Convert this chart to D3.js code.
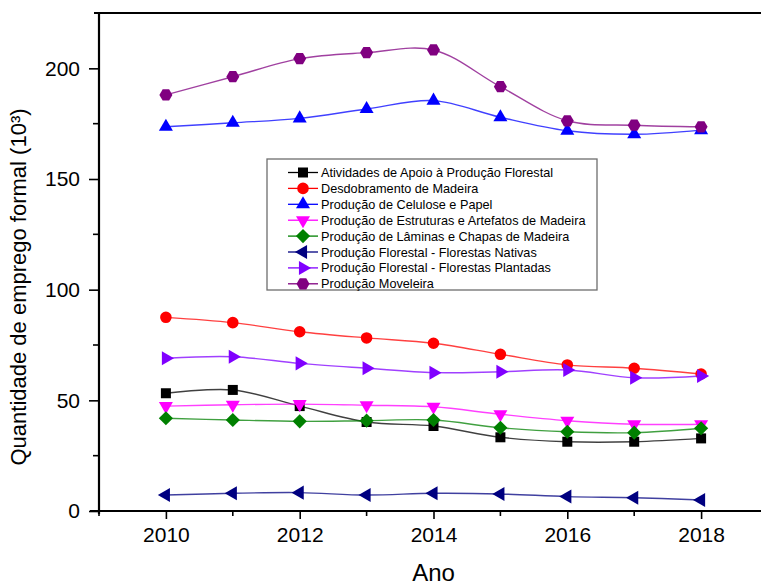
<!DOCTYPE html>
<html>
<head>
<meta charset="utf-8">
<script src="https://cdn.jsdelivr.net/npm/d3@7"></script>
<style>
  html, body { margin: 0; padding: 0; background: #fff; }
  svg { display: block; font-family: Arial, "Liberation Sans", sans-serif; }
</style>
</head>
<body>
<svg id="chart" width="761" height="587"></svg>
<script>
// Formal employment in the forestry sector, thousands of jobs per year
const years = [2010, 2011, 2012, 2013, 2014, 2015, 2016, 2017, 2018];

const apoio         = [53.2, 54.7, 47.4, 40.2, 38.4, 33.3, 31.3, 31.3, 32.8];
const desdobramento = [87.5, 85.1, 81.0, 78.2, 75.8, 70.8, 66.0, 64.5, 61.9];
const celulose      = [173.6, 175.4, 177.4, 181.6, 185.4, 177.9, 171.8, 170.2, 172.1];
const estruturas    = [47.4, 48.0, 48.3, 47.8, 47.1, 43.7, 40.8, 39.2, 39.2];
const laminas       = [41.9, 41.1, 40.5, 40.8, 41.1, 37.6, 35.8, 35.4, 37.4];
const nativas       = [7.2, 8.0, 8.3, 7.2, 8.0, 7.7, 6.5, 6.0, 5.0];
const plantadas     = [69.0, 69.7, 66.7, 64.5, 62.5, 62.9, 63.7, 60.2, 61.0];
const moveleira     = [188.0, 196.2, 204.4, 207.1, 208.3, 191.7, 176.3, 174.3, 173.6];

const seriesNames = [
  "Atividades de Apoio à Produção Florestal",
  "Desdobramento de Madeira",
  "Produção de Celulose e Papel",
  "Produção de Estruturas e Artefatos de Madeira",
  "Produção de Lâminas e Chapas de Madeira",
  "Produção Florestal - Florestas Nativas",
  "Produção Florestal - Florestas Plantadas",
  "Produção Moveleira"
];
const seriesValues = [apoio, desdobramento, celulose, estruturas, laminas, nativas, plantadas, moveleira];
const seriesColors = ["#000000", "#ff0000", "#0000ff", "#ff00ff", "#008000", "#000080", "#8000ff", "#800080"];
const seriesMarkers = ["square", "circle", "up", "down", "diamond", "left", "right", "hexagon"];

const yTicks = [0, 50, 100, 150, 200];
const xTicks = [2010, 2012, 2014, 2016, 2018];

const xTitle = "Ano";
const yTitle = "Quantidade de emprego formal (10³)";

// ---- layout ----
const svg = d3.select("#chart");
const plot = { left: 99, right: 768, top: 13, bottom: 511 };

const x = d3.scaleLinear().domain([2009, 2019]).range([plot.left, plot.right]);
const y = d3.scaleLinear().domain([0, 225]).range([plot.bottom, plot.top]);

// ---- marker shapes ----
function markerPath(kind) {
  switch (kind) {
    case "square":  return d3.symbol(d3.symbolSquare, 100)();
    case "circle":  return d3.symbol(d3.symbolCircle, 105)();
    case "up":
    case "down":
    case "left":
    case "right":   return d3.symbol(d3.symbolTriangle, 85)();
    case "diamond": return d3.symbol(d3.symbolSquare, 100)();
    case "hexagon": {
      const r = 6.5;
      const pts = d3.range(6).map(i => [r * Math.cos(i * Math.PI / 3), r * Math.sin(i * Math.PI / 3)]);
      return d3.line()(pts) + "Z";
    }
  }
}
const markerRotation = { square: 0, circle: 0, up: 0, down: 180, left: -90, right: 90, diamond: 45, hexagon: 0 };

// ---- frame: top border ----
svg.append("line")
  .attr("x1", plot.left - 5).attr("x2", plot.right)
  .attr("y1", plot.top).attr("y2", plot.top)
  .attr("stroke", "#000").attr("stroke-width", 2);

// ---- axes ----
const yAxis = d3.axisLeft(y)
  .tickValues(yTicks)
  .tickSize(10)
  .tickPadding(9)
  .tickFormat(d3.format("d"));
const gy = svg.append("g")
  .attr("transform", `translate(${plot.left},0)`)
  .call(yAxis);

const xAxis = d3.axisBottom(x)
  .tickValues(xTicks)
  .tickSize(8)
  .tickPadding(8)
  .tickFormat(d3.format("d"));
const gx = svg.append("g")
  .attr("transform", `translate(0,${plot.bottom})`)
  .call(xAxis);

[gx, gy].forEach(g => {
  g.select(".domain").remove();
  g.selectAll(".tick line").attr("stroke", "#000").attr("stroke-width", 1.6);
  g.selectAll(".tick text")
    .attr("fill", "#000")
    .style("font-size", "21px")
    .style("font-family", "Arial, 'Liberation Sans', sans-serif");
});

// minor ticks
const yMinor = d3.range(25, 225, 50);
svg.append("g").selectAll("line").data(yMinor).join("line")
  .attr("x1", plot.left - 6).attr("x2", plot.left)
  .attr("y1", d => y(d)).attr("y2", d => y(d))
  .attr("stroke", "#000").attr("stroke-width", 1.6);
const xMinor = [2009, 2011, 2013, 2015, 2017];
svg.append("g").selectAll("line").data(xMinor).join("line")
  .attr("x1", d => x(d)).attr("x2", d => x(d))
  .attr("y1", plot.bottom).attr("y2", plot.bottom + 5)
  .attr("stroke", "#000").attr("stroke-width", 1.6);

// axis lines
svg.append("line")
  .attr("x1", plot.left).attr("x2", plot.left)
  .attr("y1", plot.top - 1).attr("y2", plot.bottom + 3)
  .attr("stroke", "#000").attr("stroke-width", 2.2);
svg.append("line")
  .attr("x1", plot.left - 9).attr("x2", plot.right)
  .attr("y1", plot.bottom).attr("y2", plot.bottom)
  .attr("stroke", "#000").attr("stroke-width", 2.2);

// axis titles
svg.append("text")
  .attr("x", (plot.left + plot.right) / 2)
  .attr("y", 581)
  .attr("text-anchor", "middle")
  .style("font-size", "24px")
  .text(xTitle);

svg.append("text")
  .attr("transform", `translate(26,${287}) rotate(-90)`)
  .attr("text-anchor", "middle")
  .style("font-size", "22px")
  .text(yTitle);

// ---- series ----
const line = d3.line()
  .x((d, i) => x(years[i]))
  .y(d => y(d))
  .curve(d3.curveCatmullRom.alpha(0.5));

seriesValues.forEach((vals, s) => {
  const g = svg.append("g");
  g.append("path")
    .datum(vals)
    .attr("d", line)
    .attr("fill", "none")
    .attr("stroke", seriesColors[s])
    .attr("stroke-opacity", 0.75)
    .attr("stroke-width", 1.4);
  g.selectAll("path.marker").data(vals).join("path")
    .attr("class", "marker")
    .attr("d", markerPath(seriesMarkers[s]))
    .attr("transform", (d, i) => `translate(${x(years[i])},${y(d)}) rotate(${markerRotation[seriesMarkers[s]]})`)
    .attr("fill", seriesColors[s]);
});

// ---- legend ----
const legend = svg.append("g").attr("transform", "translate(267,159)");
legend.append("rect")
  .attr("x", 0).attr("y", 0)
  .attr("width", 330).attr("height", 131)
  .attr("fill", "#fff")
  .attr("stroke", "#6e6e6e")
  .attr("stroke-width", 1.3);

const rowH = 15.9;
seriesNames.forEach((name, s) => {
  const row = legend.append("g").attr("transform", `translate(0,${13.5 + s * rowH})`);
  row.append("line")
    .attr("x1", 21).attr("x2", 51)
    .attr("y1", 0).attr("y2", 0)
    .attr("stroke", seriesColors[s]).attr("stroke-width", 1.3);
  row.append("path")
    .attr("d", markerPath(seriesMarkers[s]))
    .attr("transform", `translate(36,0) rotate(${markerRotation[seriesMarkers[s]]})`)
    .attr("fill", seriesColors[s]);
  row.append("text")
    .attr("x", 54)
    .attr("y", 4.5)
    .style("font-size", "12.7px")
    .attr("fill", "#000")
    .text(name);
});
</script>
</body>
</html>
